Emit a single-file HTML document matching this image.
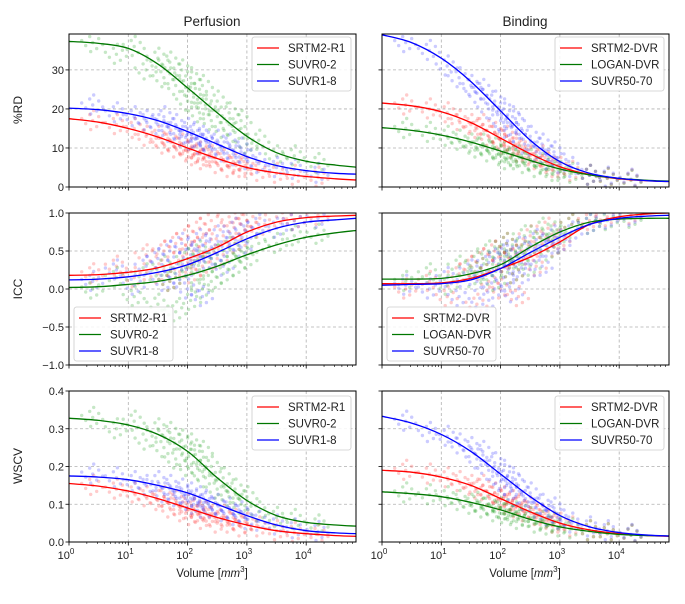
<!DOCTYPE html>
<html><head><meta charset="utf-8"><style>
body{margin:0;background:#fff;}
svg{display:block;font-family:"Liberation Sans","DejaVu Sans",sans-serif;}
</style></head><body>
<svg id="fig" width="685" height="604" viewBox="0 0 685 604"></svg>
<script>
// shared x grid (log10 volume) for fitted curves
const curveLogX = [0,0.5,1,1.5,2,2.5,3,3.5,4,4.5,4.84];
// scatter x positions (log10 volume)
const scatterLogX = [0.4,0.8,1.1,1.3,1.5,1.6,1.7,1.8,1.9,2.0,2.05,2.1,2.2,2.25,2.3,2.4,2.5,2.6,2.7,2.8,2.9,3.0,3.2,3.5,3.8,4.2];
const xTickLabels = ["0","1","2","3","4"];

// Perfusion %RD
const rdPerfRed   = [17.5,16.6,15,12.8,10,7.3,5,3.6,2.7,2.1,1.8];
const rdPerfGreen = [37.3,36.8,35.5,31.5,25.4,19.0,13.0,8.8,6.6,5.6,5.1];
const rdPerfBlue  = [20.2,19.8,18.8,17,14.2,11,7.8,5.5,4.2,3.5,3.3];
const rdPerfRedPts   = [17,16,15,13,13,11,12,10,11,9,10,8,9,7,8,8,6,7,5,6,5,5,4,3.5,3,2.5];
const rdPerfGreenPts = [37,34,36,30,33,28,32,26,30,22,28,24,19,26,21,17,22,15,19,14,17,11,12,8,8,6];
const rdPerfBluePts  = [21,19,18,17,16,18,14,16,13,15,12,14,11,13,12,10,12,9,11,8,10,7,6,5,4.5,3.5];
// Binding %RD
const rdBindRed   = [21.5,20.8,19.3,16.5,12.5,8.5,5.2,3.2,2.1,1.6,1.4];
const rdBindGreen = [15.2,14.5,13.3,11.5,9.2,6.8,4.6,3.1,2.2,1.7,1.5];
const rdBindBlue  = [39,37,33,27,19.5,12,6.5,3.5,2.2,1.6,1.4];
const rdBindRedPts   = [21,20,19,17,16,15,16,13,14,12,11,13,10,11,9,9,8,7,8,6,5,5,4,3,2.2,1.8];
const rdBindGreenPts = [15,14,13,12,11,10,11,9,10,8,9,7,8,7,8,6,7,5,6,5,4,4,3.5,3,2.2,1.7];
const rdBindBluePts  = [37,35,31,28,26,24,25,20,22,17,20,15,18,14,16,11,13,9,11,7,9,6,5,3,2.5,2];
// Perfusion ICC
const iccPerfRed   = [0.18,0.19,0.22,0.28,0.4,0.55,0.75,0.88,0.94,0.96,0.97];
const iccPerfGreen = [0.02,0.03,0.06,0.1,0.18,0.3,0.45,0.58,0.68,0.74,0.77];
const iccPerfBlue  = [0.12,0.13,0.16,0.22,0.32,0.48,0.66,0.8,0.88,0.91,0.93];
const iccPerfRedPts   = [0.2,0.3,0.15,0.45,0.2,0.5,0.1,0.6,0.3,0.7,0.2,0.5,0.8,0.3,0.6,0.9,0.4,0.7,0.95,0.6,0.85,0.9,0.8,0.95,0.9,0.97];
const iccPerfGreenPts = [0.0,0.15,-0.1,0.2,-0.2,0.3,0.1,-0.3,0.25,0.4,-0.15,0.2,0.5,0.0,0.35,0.1,0.45,0.2,0.55,0.3,0.5,0.4,0.6,0.6,0.7,0.72];
const iccPerfBluePts  = [0.1,0.25,0.05,0.3,0.4,0.1,0.5,0.2,0.6,0.0,0.45,0.3,0.65,-0.1,0.5,0.4,0.7,0.3,0.6,0.8,0.55,0.75,0.85,0.8,0.9,0.93];
// Binding ICC
const iccBindRed   = [0.07,0.07,0.08,0.14,0.27,0.42,0.62,0.85,0.95,0.99,1.0];
const iccBindGreen = [0.13,0.13,0.14,0.2,0.32,0.55,0.75,0.88,0.92,0.93,0.93];
const iccBindBlue  = [0.05,0.06,0.07,0.12,0.27,0.48,0.68,0.85,0.93,0.96,0.97];
const iccBindRedPts   = [0.0,0.1,-0.1,0.2,0.3,-0.2,0.4,0.1,0.5,0.0,0.35,0.6,0.2,0.45,-0.1,0.5,0.7,0.3,0.6,0.8,0.55,0.65,0.85,0.9,0.95,0.98];
const iccBindGreenPts = [0.1,0.2,0.05,0.3,0.15,0.35,0.2,0.5,0.1,0.45,0.3,0.6,0.2,0.5,0.4,0.7,0.3,0.6,0.8,0.5,0.75,0.7,0.85,0.85,0.9,0.93];
const iccBindBluePts  = [0.05,0.0,0.15,-0.1,0.25,0.1,-0.2,0.35,0.0,0.4,0.15,0.5,-0.05,0.3,0.55,0.2,0.45,0.65,0.3,0.55,0.7,0.6,0.75,0.85,0.92,0.96];
// Perfusion WSCV
const wsPerfRed   = [0.155,0.148,0.135,0.115,0.09,0.065,0.045,0.03,0.022,0.017,0.015];
const wsPerfGreen = [0.328,0.322,0.31,0.285,0.24,0.17,0.11,0.07,0.052,0.045,0.042];
const wsPerfBlue  = [0.175,0.172,0.165,0.15,0.13,0.1,0.07,0.045,0.03,0.024,0.022];
const wsPerfRedPts   = [0.15,0.14,0.13,0.12,0.11,0.12,0.09,0.11,0.08,0.1,0.07,0.09,0.08,0.06,0.08,0.07,0.05,0.07,0.05,0.06,0.04,0.05,0.04,0.03,0.025,0.02];
const wsPerfGreenPts = [0.33,0.3,0.32,0.27,0.3,0.25,0.29,0.22,0.27,0.2,0.26,0.23,0.19,0.24,0.17,0.2,0.14,0.17,0.12,0.14,0.1,0.12,0.08,0.065,0.06,0.045];
const wsPerfBluePts  = [0.18,0.17,0.16,0.15,0.16,0.13,0.15,0.12,0.14,0.11,0.13,0.1,0.12,0.09,0.11,0.09,0.1,0.08,0.09,0.07,0.08,0.06,0.055,0.045,0.035,0.028];
// Binding WSCV
const wsBindRed   = [0.19,0.185,0.172,0.15,0.115,0.08,0.05,0.032,0.022,0.017,0.015];
const wsBindGreen = [0.133,0.128,0.12,0.105,0.085,0.06,0.04,0.028,0.02,0.017,0.016];
const wsBindBlue  = [0.333,0.315,0.285,0.24,0.18,0.12,0.07,0.04,0.025,0.018,0.016];
const wsBindRedPts   = [0.19,0.18,0.17,0.16,0.15,0.14,0.15,0.12,0.13,0.11,0.12,0.1,0.11,0.09,0.1,0.08,0.09,0.07,0.07,0.06,0.05,0.05,0.04,0.03,0.022,0.018];
const wsBindGreenPts = [0.13,0.125,0.12,0.11,0.1,0.105,0.09,0.1,0.08,0.09,0.075,0.085,0.07,0.08,0.06,0.07,0.065,0.05,0.055,0.045,0.05,0.04,0.035,0.03,0.022,0.018];
const wsBindBluePts  = [0.32,0.29,0.28,0.26,0.25,0.22,0.24,0.19,0.21,0.16,0.19,0.15,0.17,0.12,0.15,0.11,0.13,0.09,0.1,0.07,0.09,0.06,0.05,0.04,0.03,0.02];

const rdTicks = [0,10,20,30];
const iccTicks = [-1.0,-0.5,0.0,0.5,1.0];
const wsTicks = [0.0,0.1,0.2,0.3,0.4];
const perfNames = ["SRTM2-R1","SUVR0-2","SUVR1-8"];
const bindNames = ["SRTM2-DVR","LOGAN-DVR","SUVR50-70"];

const NS="http://www.w3.org/2000/svg";
const svg=document.getElementById('fig');
function mk(tag,attrs,parent){const e=document.createElementNS(NS,tag);for(const k in attrs)e.setAttribute(k,attrs[k]);(parent||svg).appendChild(e);return e;}
const COLS=["#ff0000","#007700","#0000ff"];
const PTC=["#ff4444","#33aa33","#4444ff"];
// dot cluster glyph (pixel offsets around each plotted sample) to mimic dense point cloud
const GLYPH=[[0,0],[-7,3],[6,-4],[-3,-6],[4,6],[-11,-2],[10,2],[1,-10],[-2,9]];
const X0=[69,382], W=287, XMAX=4.84;
const ROWS=[[34,187],[213,365],[391,542]];

function catmull(pts){let d="M"+pts[0][0]+","+pts[0][1];for(let i=0;i<pts.length-1;i++){const p0=pts[Math.max(0,i-1)],p1=pts[i],p2=pts[i+1],p3=pts[Math.min(pts.length-1,i+2)];
const c1=[p1[0]+(p2[0]-p0[0])/6,p1[1]+(p2[1]-p0[1])/6],c2=[p2[0]-(p3[0]-p1[0])/6,p2[1]-(p3[1]-p1[1])/6];
d+=" C"+c1[0].toFixed(1)+","+c1[1].toFixed(1)+" "+c2[0].toFixed(1)+","+c2[1].toFixed(1)+" "+p2[0].toFixed(1)+","+p2[1].toFixed(1);}return d;}

function panel(col,row,ymin,ymax,ticks,tickFmt,curves,pts,names,legendPos,showYLabels,showXLabels,name){
  const g=mk('g',{});
  
  
  const x0=X0[col],x1=x0+W,y0=ROWS[row][0],y1=ROWS[row][1];
  const sx=v=>x0+v/XMAX*W, sy=v=>y1-(v-ymin)/(ymax-ymin)*(y1-y0);
  const clip='c'+col+row;
  const cp=mk('clipPath',{id:clip},g);mk('rect',{x:x0,y:y0,width:W,height:y1-y0},cp);
  for(let d=1;d<=4;d++)mk('line',{x1:sx(d),x2:sx(d),y1:y0,y2:y1,stroke:'#b0b0b0','stroke-width':0.8,'stroke-dasharray':'3,2.5'},g);
  ticks.forEach(t=>{if(t>ymin&&t<ymax)mk('line',{x1:x0,x2:x1,y1:sy(t),y2:sy(t),stroke:'#b0b0b0','stroke-width':0.8,'stroke-dasharray':'3,2.5'},g);});
  const sg=mk('g',{'clip-path':'url(#'+clip+')'},g);
  pts.forEach((arr,si)=>{arr.forEach((v,i)=>{
    const pg=mk('g',{},sg);
    
    
    const cx=sx(scatterLogX[i]),cy=sy(v);
    GLYPH.forEach(o=>mk('circle',{cx:(cx+o[0]).toFixed(1),cy:(cy+o[1]).toFixed(1),r:1.7,fill:PTC[si],'fill-opacity':0.28},pg));});});
  curves.forEach((arr,si)=>{const p=mk('path',{d:catmull(arr.map((v,i)=>[sx(curveLogX[i]),sy(v)])),fill:'none',stroke:COLS[si],'stroke-width':1.3},sg);
    
    });
  mk('rect',{x:x0,y:y0,width:W,height:y1-y0,fill:'none',stroke:'#000','stroke-width':1},g);
  for(let d=0;d<=4;d++){mk('line',{x1:sx(d),x2:sx(d),y1:y1,y2:y1+3.5,stroke:'#000','stroke-width':0.8},g);
    for(let m=2;m<=9;m++){const lv=d+Math.log10(m);if(lv<XMAX)mk('line',{x1:sx(lv),x2:sx(lv),y1:y1,y2:y1+2,stroke:'#000','stroke-width':0.6},g);}
    if(showXLabels){const t=mk('text',{x:sx(d)-3,y:y1+17,'font-size':11,'text-anchor':'middle',fill:'#222'},g);t.textContent='10';
      const s=mk('tspan',{dy:-5,'font-size':8},t);s.textContent=xTickLabels[d];}}
  ticks.forEach(t=>{mk('line',{x1:x0-3.5,x2:x0,y1:sy(t),y2:sy(t),stroke:'#000','stroke-width':0.8},g);
    if(showYLabels){const tx=mk('text',{x:x0-5,y:sy(t)+4,'font-size':11,'text-anchor':'end',fill:'#222'},g);tx.textContent=tickFmt(t);}});
  const lw=names[0].length>8?109:99, lx=legendPos[0], ly=legendPos[1];
  const lg=mk('g',{},g);
  
  
  mk('rect',{x:lx,y:ly,width:lw,height:54,rx:2.5,fill:'#fff','fill-opacity':0.85,stroke:'#ccc','stroke-width':0.8},lg);
  names.forEach((n,i)=>{const yy=ly+11+i*16.5;
    mk('line',{x1:lx+5,x2:lx+27,y1:yy,y2:yy,stroke:COLS[i],'stroke-width':1.3},lg);
    const t=mk('text',{x:lx+36,y:yy+4,'font-size':11.5,fill:'#222'},lg);t.textContent=n;
    
    });
}
const f0=t=>String(t), f1=t=>(t<0?'\u2212':'')+Math.abs(t).toFixed(1);
panel(0,0,0,39.2,rdTicks,f0,[rdPerfRed,rdPerfGreen,rdPerfBlue],[rdPerfRedPts,rdPerfGreenPts,rdPerfBluePts],perfNames,[252,37],true,false,'perfusion-rd-panel');
panel(1,0,0,39.2,rdTicks,f0,[rdBindRed,rdBindGreen,rdBindBlue],[rdBindRedPts,rdBindGreenPts,rdBindBluePts],bindNames,[555,37],false,false,'binding-rd-panel');
panel(0,1,-1,1,iccTicks,f1,[iccPerfRed,iccPerfGreen,iccPerfBlue],[iccPerfRedPts,iccPerfGreenPts,iccPerfBluePts],perfNames,[74,307],true,false,'perfusion-icc-panel');
panel(1,1,-1,1,iccTicks,f1,[iccBindRed,iccBindGreen,iccBindBlue],[iccBindRedPts,iccBindGreenPts,iccBindBluePts],bindNames,[387,307],false,false,'binding-icc-panel');
panel(0,2,0,0.4,wsTicks,f1,[wsPerfRed,wsPerfGreen,wsPerfBlue],[wsPerfRedPts,wsPerfGreenPts,wsPerfBluePts],perfNames,[252,396],true,true,'perfusion-wscv-panel');
panel(1,2,0,0.4,wsTicks,f1,[wsBindRed,wsBindGreen,wsBindBlue],[wsBindRedPts,wsBindGreenPts,wsBindBluePts],bindNames,[555,396],false,true,'binding-wscv-panel');

function txt(s,attrs,name){const t=mk('text',Object.assign({'font-size':12,'text-anchor':'middle',fill:'#222'},attrs));t.textContent=s;
  
  return t;}
txt('Perfusion',{x:212,y:26,'font-size':13.5},'perfusion-title');
txt('Binding',{x:525,y:26,'font-size':13.5},'binding-title');
txt('%RD',{x:22,y:110,transform:'rotate(-90 22 110)'},'rd-y-axis-title');
txt('ICC',{x:22,y:289,transform:'rotate(-90 22 289)'},'icc-y-axis-title');
txt('WSCV',{x:22,y:466,transform:'rotate(-90 22 466)'},'wscv-y-axis-title');
[212,525].forEach((cx,i)=>{const t=txt('Volume [',{x:cx,y:577,'font-size':11.5},'x-axis-title-'+i);
  const m=mk('tspan',{'font-style':'italic'},t);m.textContent='mm';
  const s=mk('tspan',{dy:-5,'font-size':8},t);s.textContent='3';
  const e=mk('tspan',{dy:5},t);e.textContent=']';});
</script>
</body></html>
